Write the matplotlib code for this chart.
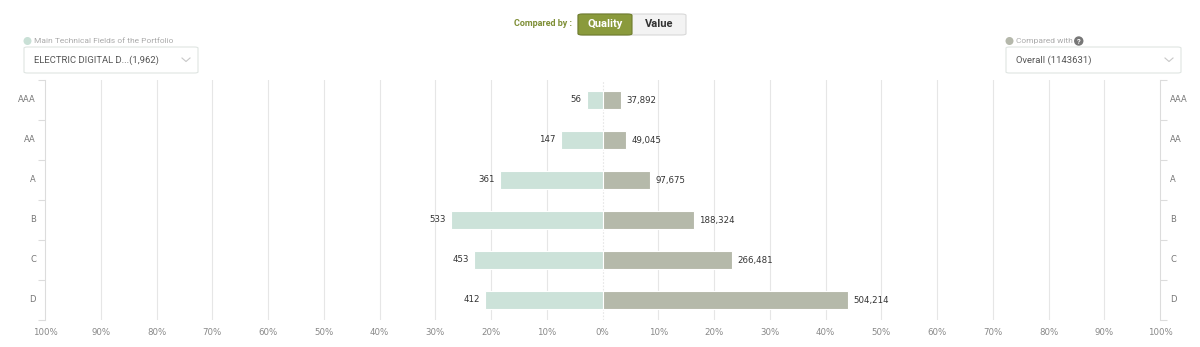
import matplotlib
matplotlib.use("Agg")
import matplotlib.pyplot as plt
from matplotlib.patches import FancyBboxPatch, Ellipse
from matplotlib.lines import Line2D
import numpy as np

plt.rcParams.update({"font.family": ["Roboto", "DejaVu Sans"]})

# quality classes, top to bottom
grades = ["AAA", "AA", "A", "B", "C", "D"]
portfolio_counts = [56, 147, 361, 533, 453, 412]           # left side
overall_counts = [37892, 49045, 97675, 188324, 266481, 504214]  # right side
pct_ticks = [-100, -90, -80, -70, -60, -50, -40, -30, -20, -10,
             0, 10, 20, 30, 40, 50, 60, 70, 80, 90, 100]

LEFT_C = "#cce2d9"
RIGHT_C = "#b5b9aa"
AXIS_C = "#dcdcdc"
TXT_C = "#888888"

left_pct = 100 * np.array(portfolio_counts) / sum(portfolio_counts)
right_pct = 100 * np.array(overall_counts) / sum(overall_counts)

W, H = 1200, 347
fig = plt.figure(figsize=(W / 100, H / 100), dpi=100)
ax = fig.add_axes([45 / W, 27 / H, 1115 / W, 240 / H])

y = np.arange(len(grades))
ax.barh(y, -left_pct, height=0.47, color=LEFT_C, edgecolor="white", lw=0.8, zorder=3)
ax.barh(y, right_pct, height=0.47, color=RIGHT_C, edgecolor="white", lw=0.8, zorder=3)

for yi, lp, rp, lc, rc in zip(y, left_pct, right_pct, portfolio_counts, overall_counts):
    ax.text(-lp - 0.9, yi, f"{lc:,}", ha="right", va="center",
            fontsize=6.2, color="#333333", family="DejaVu Sans")
    ax.text(rp + 0.9, yi, f"{rc:,}", ha="left", va="center",
            fontsize=6.2, color="#333333", family="DejaVu Sans")

ax.set_xlim(-100, 100)
ax.set_ylim(len(grades) - 0.5, -0.5)

# vertical grid every 10%, zero line dotted
for t in pct_ticks[1:-1]:
    ax.axvline(t, color="#e6e6e6", lw=0.8, zorder=1,
               ls=(0, (1.5, 1.5)) if t == 0 else "-")

ax.set_xticks(pct_ticks)
ax.set_xticklabels([f"{abs(t)}%" for t in pct_ticks], fontsize=6.2, color=TXT_C,
                   family="DejaVu Sans")
ax.tick_params(axis="x", length=0, pad=6)

bounds = np.arange(-0.5, len(grades), 1.0)
ax.set_yticks(bounds)
ax.set_yticklabels([])
ax.tick_params(axis="y", length=5, color=AXIS_C, left=True, right=True)
for yi, g in zip(y, grades):
    ax.text(-0.008, yi, g, transform=ax.get_yaxis_transform(), ha="right",
            va="center", fontsize=6, color="#777777", family="DejaVu Sans")
    ax.text(1.009, yi, g, transform=ax.get_yaxis_transform(), ha="left",
            va="center", fontsize=6, color="#777777", family="DejaVu Sans")

for side in ("top", "bottom"):
    ax.spines[side].set_visible(False)
for side in ("left", "right"):
    ax.spines[side].set_color(AXIS_C)
    ax.spines[side].set_linewidth(0.8)


def px(x0, y0):
    return x0 / W, 1 - y0 / H


def dot(x0, y0, r, color):
    fig.add_artist(Ellipse(px(x0, y0), 2 * r / W, 2 * r / H,
                           transform=fig.transFigure, color=color))


def dropdown(x0, x1, caption, value, dot_c, help_icon=False):
    box = FancyBboxPatch(px(x0, 73), (x1 - x0) / W, 26 / H,
                         boxstyle="round,pad=0,rounding_size=0.003",
                         transform=fig.transFigure, fc="white",
                         ec="#dfe5e2", lw=0.8)
    fig.add_artist(box)
    dot(x0 + 3.5, 41, 3.3, dot_c)
    t = fig.text(*px(x0 + 10, 41), caption, fontsize=6, color="#aaaaaa",
                 va="center", ha="left")
    fig.text(*px(x0 + 10, 60), value, fontsize=6.8, color="#555555",
             va="center", ha="left")
    # chevron
    cx = x1 - 12
    xs, ys = zip(px(cx - 4, 58), px(cx, 61.5), px(cx + 4, 58))
    fig.add_artist(Line2D(xs, ys, transform=fig.transFigure, color="#c8c8c8",
                          lw=0.8))
    if help_icon:
        fig.canvas.draw()
        bb = t.get_window_extent()
        cxi = bb.x1 + 6
        dot(cxi, 41, 4, "#777777")
        fig.text(cxi / W, 1 - 41.3 / H, "?", fontsize=5.5, color="white",
                 va="center", ha="center", weight="bold")


dropdown(24, 198, "Main Technical Fields of the Portfolio",
         "ELECTRIC DIGITAL D...(1,962)", "#c9e0d6")
dropdown(1006, 1181, "Compared with", "Overall (1143631)", "#b5b8ab",
         help_icon=True)

# compared-by toggle
fig.text(*px(572, 24), "Compared by :", fontsize=6.5, color="#7f8f36",
         weight="bold", ha="right", va="center")
fig.add_artist(FancyBboxPatch(px(578, 35), 108 / W, 21 / H,
                              boxstyle="round,pad=0,rounding_size=0.004",
                              transform=fig.transFigure, fc="#f3f3f3",
                              ec="#d8d8d8", lw=0.8))
fig.add_artist(FancyBboxPatch(px(578, 35), 54 / W, 21 / H,
                              boxstyle="round,pad=0,rounding_size=0.004",
                              transform=fig.transFigure, fc="#8a9a3c",
                              ec="#6f7d2e", lw=0.8))
fig.text(*px(605, 24), "Quality", fontsize=8, color="white", weight="bold",
         ha="center", va="center")
fig.text(*px(659, 24), "Value", fontsize=8, color="#333333", weight="bold",
         ha="center", va="center")

fig.savefig("out.png", dpi=100)
